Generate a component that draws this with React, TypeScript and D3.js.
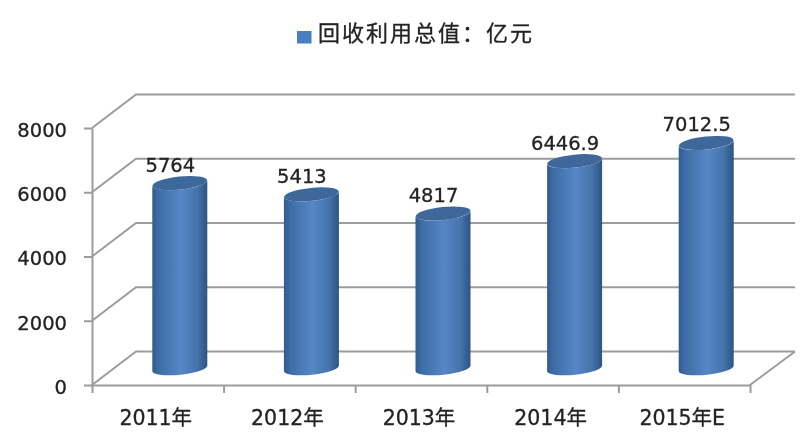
import React, { useEffect, useRef } from 'react';
import * as d3 from 'd3';

const categories = ['2011年', '2012年', '2013年', '2014年', '2015年E'];
const values = [5764, 5413, 4817, 6446.9, 7012.5];
const valueLabels = ['5764', '5413', '4817', '6446.9', '7012.5'];
const yTicks = [0, 2000, 4000, 6000, 8000];
const legendLabel = '回收利用总值：亿元';

const width = 800;
const height = 434;
const left = 92;
const right = 750;
const top = 128;
const bottom = 385;
const depthX = 44;
const depthY = -33.5;
const barWidth = 55;
const gridColor = '#9c9c9c';
const textColor = '#222';
const latin = '"DejaVu Sans", "Noto Sans CJK SC", sans-serif';

const App: React.FC = () => {
    const svgRef = useRef<SVGSVGElement>(null);

    useEffect(() => {
        if (!svgRef.current) return;
        const root = d3.select(svgRef.current);
        root.selectAll('*').remove();

        const x = d3.scaleBand<string>().domain(categories).range([left, right]);
        const y = d3.scaleLinear().domain([0, 8000]).range([bottom, top]);

        const defs = root.append('defs');
        const grad = defs.append('linearGradient').attr('id', 'cyl').attr('x1', 0).attr('x2', 1).attr('y1', 0).attr('y2', 0);
        [['0%', '#305b90'], ['12%', '#3f6da6'], ['52%', '#5686c6'], ['82%', '#4573ab'], ['100%', '#2c5484']].forEach(([o, c]) => {
            grad.append('stop').attr('offset', o).attr('stop-color', c);
        });
        defs.append('filter').attr('id', 'soft').append('feGaussianBlur').attr('stdDeviation', 0.55);

        const svg = root.append('g').attr('filter', 'url(#soft)');

        // Legend
        svg.append('rect').attr('x', 297).attr('y', 31).attr('width', 14.5).attr('height', 12.5).attr('fill', '#4a7fc1');
        svg.append('text')
            .attr('x', 318).attr('y', 41)
            .style('font-family', '"Noto Sans CJK SC", sans-serif')
            .style('font-size', '22px')
            .style('letter-spacing', '2px')
            .attr('fill', textColor)
            .attr('stroke', textColor)
            .attr('stroke-width', 0.3)
            .text(legendLabel);

        // Walls and floor gridlines
        const grid = svg.append('g').attr('fill', 'none').attr('stroke', gridColor).attr('stroke-width', 2);
        yTicks.forEach(t => {
            const py = y(t);
            grid.append('path').attr('d', `M${left},${py}L${left + depthX},${py + depthY}L${right + depthX + 1},${py + depthY}`);
        });
        grid.append('path').attr('d', `M${right},${bottom}L${right + depthX + 1},${bottom + depthY}`);

        // Axes
        const yAxis = svg.append('g')
            .attr('transform', `translate(${left},0)`)
            .call(d3.axisLeft(y).tickValues(yTicks).tickFormat(d => String(d)).tickSize(8).tickPadding(17).tickSizeOuter(0));
        const xAxis = svg.append('g')
            .attr('transform', `translate(0,${bottom})`)
            .call(d3.axisBottom(d3.scaleLinear().domain([0, categories.length]).range([left, right]))
                .ticks(categories.length).tickFormat(() => '').tickSize(8).tickSizeOuter(0));
        [yAxis, xAxis].forEach(a => {
            a.selectAll('path,line').attr('stroke', gridColor).attr('stroke-width', 2);
        });
        yAxis.selectAll('text')
            .attr('fill', textColor)
            .attr('stroke', textColor)
            .attr('stroke-width', 0.3)
            .attr('y', 2)
            .style('font-family', latin)
            .style('font-size', '19.5px');

        svg.append('g').selectAll('text')
            .data(categories)
            .enter()
            .append('text')
            .attr('x', d => (x(d) || 0) + x.bandwidth() / 2 - 2)
            .attr('y', 425)
            .attr('text-anchor', 'middle')
            .attr('fill', textColor)
            .attr('stroke', textColor)
            .attr('stroke-width', 0.3)
            .style('font-family', latin)
            .style('font-size', '20.5px')
            .text(d => d);

        // Cylinders sit half way into the depth of the floor
        const rx = barWidth / 2;
        const ry = 6.5;
        const tilt = 3;
        const bars = svg.append('g').selectAll('g')
            .data(values)
            .enter()
            .append('g')
            .attr('transform', (d, i) => `translate(${(x(categories[i]) || 0) + x.bandwidth() / 2 + depthX / 2},${depthY / 2})`);

        bars.append('path')
            .attr('fill', 'url(#cyl)')
            .attr('d', d => {
                const t = y(d);
                return `M${-rx},${t + tilt}A${rx},${ry} -6 0 0 ${rx},${t - tilt}L${rx},${bottom - tilt}A${rx},${ry} -6 0 1 ${-rx},${bottom + tilt}Z`;
            });
        bars.append('ellipse')
            .attr('rx', rx)
            .attr('ry', ry)
            .attr('transform', d => `translate(0,${y(d)}) rotate(-6)`)
            .attr('fill', '#3d6899');

        // Value labels
        svg.append('g').selectAll('text')
            .data(values)
            .enter()
            .append('text')
            .attr('x', (d, i) => (x(categories[i]) || 0) + x.bandwidth() / 2 + depthX / 2 - 9.5)
            .attr('y', d => y(d) + depthY / 2 - 11.5)
            .attr('text-anchor', 'middle')
            .attr('fill', textColor)
            .attr('stroke', textColor)
            .attr('stroke-width', 0.3)
            .style('font-family', latin)
            .style('font-size', '19.5px')
            .text((d, i) => valueLabels[i]);
    }, []);

    return (
        <svg
            ref={svgRef}
            width={width}
            height={height}
            style={{ position: 'absolute', left: 0, top: 0, background: '#fff' }}
        />
    );
};

export default App;
